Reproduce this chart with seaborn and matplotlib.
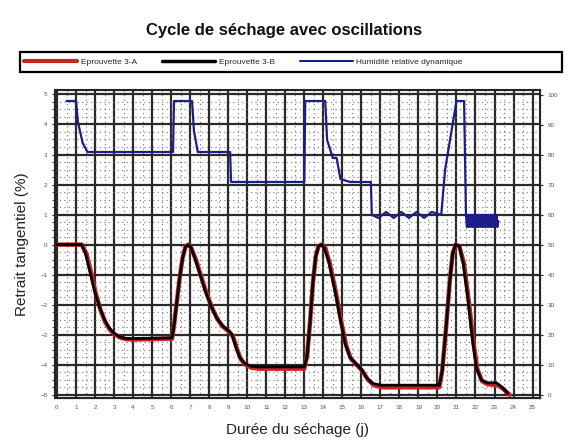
import matplotlib
matplotlib.use("Agg")
import matplotlib.pyplot as plt
import seaborn as sns
from matplotlib.patches import Rectangle
from matplotlib.ticker import MultipleLocator

# Eprouvette 3-B (black)
days_b = [0, 1.3, 1.5, 1.75, 2.0, 2.25, 2.5, 2.75, 3.0, 3.3, 3.6, 4.0, 6.05,
          6.15, 6.3, 6.45, 6.6, 6.75, 6.9, 7.05, 7.25, 7.5, 7.8, 8.1, 8.4, 8.7, 9.0,
          9.2, 9.4, 9.6, 9.85, 10.2, 10.6, 13.0,
          13.15, 13.3, 13.45, 13.6, 13.75, 13.9, 14.05, 14.3, 14.6, 14.9, 15.15, 15.4,
          15.7, 16.0, 16.3, 16.6, 17.0, 20.1,
          20.25, 20.45, 20.65, 20.8, 20.95, 21.15, 21.35, 21.6, 21.85, 22.05, 22.3,
          22.6, 23.1, 23.4, 23.7]
retrait_b = [0, 0, -0.3, -0.95, -1.6, -2.1, -2.5, -2.78, -2.95, -3.07, -3.12, -3.13, -3.1,
             -2.7, -1.9, -1.1, -0.45, -0.08, 0, -0.1, -0.45, -0.95, -1.55, -2.05, -2.45, -2.7, -2.85,
             -3.0, -3.4, -3.75, -3.95, -4.05, -4.07, -4.07,
             -3.7, -2.6, -1.3, -0.4, -0.05, 0, -0.1, -0.6, -1.5, -2.5, -3.3, -3.75,
             -3.95, -4.15, -4.45, -4.62, -4.68, -4.68,
             -4.2, -2.8, -1.2, -0.3, 0, -0.05, -0.6, -1.8, -3.2, -4.1, -4.5,
             -4.6, -4.6, -4.75, -4.95]

# Eprouvette 3-A (red)
days_a = [0, 1.3, 1.55, 1.8, 2.05, 2.3, 2.55, 2.8, 3.05, 3.35, 3.65, 4.05, 6.05,
          6.15, 6.3, 6.45, 6.6, 6.75, 6.9, 7.05, 7.3, 7.55, 7.85, 8.15, 8.45, 8.75, 9.05,
          9.25, 9.45, 9.65, 9.9, 10.25, 10.65, 13.0,
          13.15, 13.3, 13.45, 13.6, 13.75, 13.9, 14.1, 14.35, 14.65, 14.95, 15.2, 15.45,
          15.75, 16.05, 16.35, 16.65, 17.05, 20.1,
          20.25, 20.45, 20.65, 20.8, 20.95, 21.15, 21.4, 21.65, 21.9, 22.1, 22.35,
          22.65, 23.15, 23.45, 23.8]
retrait_a = [0, 0, -0.3, -0.95, -1.65, -2.2, -2.6, -2.85, -3.0, -3.1, -3.15, -3.16, -3.13,
             -2.7, -1.9, -1.1, -0.45, -0.08, 0, -0.1, -0.5, -1.0, -1.6, -2.1, -2.5, -2.75, -2.9,
             -3.05, -3.45, -3.8, -4.0, -4.1, -4.13, -4.13,
             -3.7, -2.6, -1.3, -0.4, -0.05, 0, -0.1, -0.65, -1.55, -2.6, -3.35, -3.8,
             -4.0, -4.2, -4.5, -4.68, -4.75, -4.75,
             -4.2, -2.8, -1.2, -0.3, 0, -0.05, -0.65, -1.9, -3.3, -4.15, -4.55,
             -4.65, -4.67, -4.8, -5.0]

# Humidite relative (blue, right axis)
days_h = [0.5, 1.0, 1.1, 1.35, 1.6, 6.1, 6.15, 7.1, 7.2, 7.4, 9.1, 9.15, 13.0, 13.05, 14.1,
          14.2, 14.5, 14.7, 14.9, 15.4, 16.5, 16.55, 16.9, 17.3, 17.7, 18.1, 18.5, 18.9, 19.3,
          19.7, 20.2, 20.4, 21.0, 21.4, 21.5,
          21.55, 21.6, 21.65, 21.7, 21.75, 21.8, 21.85, 21.9, 21.95, 22.0, 22.05, 22.1,
          22.15, 22.2, 22.25, 22.3, 22.35, 22.4, 22.45, 22.5, 22.55, 22.6, 22.65, 22.7,
          22.75, 22.8, 22.85, 22.9, 22.95, 23.0, 23.05, 23.1, 23.15, 23.2]
humid = [98, 98, 91, 84, 81, 81, 98, 98, 88, 81, 81, 71, 71, 98, 98,
         85, 79, 79, 72, 71, 71, 60, 59, 61, 59, 61, 59, 61, 59,
         61, 60, 75, 98, 98, 60,
         56, 60, 56, 60, 56, 60, 56, 60, 56, 60, 56, 60,
         56, 60, 56, 60, 56, 60, 56, 60, 56, 60, 56, 60,
         56, 60, 56, 60, 56, 60, 56, 60, 56, 58]

x_ticks = list(range(0, 26))
y_ticks = [-5, -4, -3, -2, -1, 0, 1, 2, 3, 4, 5]
h_ticks = [0, 10, 20, 30, 40, 50, 60, 70, 80, 90, 100]

sns.set_style("white")
plt.rcParams["font.family"] = ["Liberation Sans", "DejaVu Sans"]

fig = plt.figure(figsize=(5.68, 4.43), dpi=100)
ax = fig.add_axes([0.097, 0.102, 0.854, 0.695])

red = "#cc2222"
blue = "#1c1c8a"

sns.lineplot(x=days_a, y=retrait_a, ax=ax, color=red, linewidth=3.2, sort=False,
             estimator=None, legend=False)
sns.lineplot(x=days_b, y=retrait_b, ax=ax, color="black", linewidth=2.0, sort=False,
             estimator=None, legend=False)

ax.set_xlim(-0.1, 25.4)
ax.set_ylim(-5.1, 5.15)
ax.set_xticks(x_ticks)
ax.set_yticks(y_ticks)
ax.xaxis.set_minor_locator(MultipleLocator(0.5))
ax.yaxis.set_minor_locator(MultipleLocator(0.25))
ax.grid(which="major", color="#2a2a2a", linewidth=1.6)
ax.grid(which="minor", color="#777777", linewidth=0.8, linestyle=(0, (1, 3)))
ax.set_axisbelow(True)
ax.tick_params(axis="both", labelsize=4.5, labelcolor="#555555", length=2)
for s in ax.spines.values():
    s.set_color("#222222")
    s.set_linewidth(1.5)

ax2 = ax.twinx()
sns.lineplot(x=days_h, y=humid, ax=ax2, color=blue, linewidth=1.6, sort=False,
             estimator=None, legend=False)
ax2.set_ylim(-1, 101.7)
ax2.set_yticks(h_ticks)
ax2.tick_params(axis="y", labelsize=4.5, labelcolor="#555555", length=2)
ax2.grid(False)
ax2.set_ylabel("")

ax.set_xlabel("Durée du séchage (j)", fontsize=11, color="#222222", labelpad=9)
ax.set_ylabel("Retrait tangentiel (%)", fontsize=11, color="#222222", labelpad=8)
fig.text(0.5, 0.932, "Cycle de séchage avec oscillations", ha="center", va="center",
         fontsize=12, fontweight="bold", color="#111111")

# legend frame spanning the width, entries packed on the left
fig.patches.append(Rectangle((20 / 568, 1 - 72 / 443), 542 / 568, 20 / 443,
                             transform=fig.transFigure, fill=False, edgecolor="black",
                             linewidth=1.6))
handles = [plt.Line2D([], [], color=red, linewidth=3),
           plt.Line2D([], [], color="black", linewidth=2.5),
           plt.Line2D([], [], color=blue, linewidth=1.5)]
labels = ["Eprouvette 3-A", "Eprouvette 3-B", "Humidité relative dynamique"]
fig.legend(handles, labels, loc="center left", bbox_to_anchor=(0.035, 1 - 62 / 443),
           ncol=3, fontsize=6, frameon=False, handlelength=6.4, handletextpad=0.4,
           columnspacing=3, borderpad=0)

fig.savefig("out.png", dpi=100)
